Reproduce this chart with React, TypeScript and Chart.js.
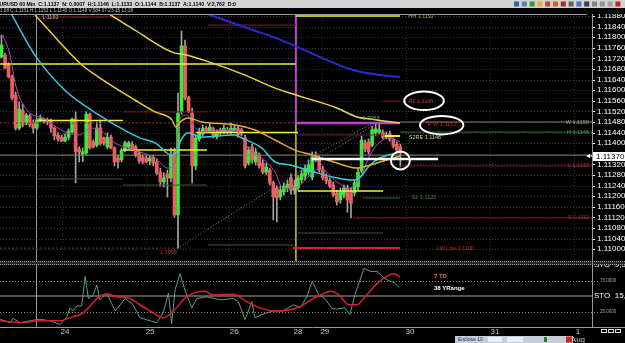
import React, { useEffect, useRef } from 'react';
import { Chart, registerables } from 'chart.js';

Chart.register(...registerables);

const FONT = '"Liberation Sans", Arial, sans-serif';

// ---------------- candles (hourly EURUSD) ----------------
const opens = [
  1.11725, 1.11733, 1.11695, 1.11650, 1.11582, 1.11457, 1.11525, 1.11476, 1.11503, 1.11476,
  1.11457, 1.11484, 1.11491, 1.11488, 1.11484, 1.11457, 1.11431, 1.11423, 1.11408, 1.11423,
  1.11442, 1.11491, 1.11378, 1.11359, 1.11363, 1.11510, 1.11405, 1.11393, 1.11457, 1.11420,
  1.11386, 1.11423, 1.11382, 1.11344, 1.11337, 1.11374, 1.11386, 1.11397, 1.11386, 1.11363,
  1.11348, 1.11344, 1.11333, 1.11348, 1.11329, 1.11291, 1.11254, 1.11284, 1.11269, 1.11367,
  1.11129, 1.11518, 1.11767, 1.11571, 1.11514, 1.11314, 1.11416, 1.11435, 1.11457, 1.11446,
  1.11454, 1.11427, 1.11450, 1.11442, 1.11450, 1.11442, 1.11450, 1.11457, 1.11450, 1.11420,
  1.11325, 1.11386, 1.11329, 1.11355, 1.11325, 1.11291, 1.11299, 1.11250, 1.11231, 1.11197,
  1.11216, 1.11231, 1.11269, 1.11223, 1.11231, 1.11261, 1.11276, 1.11291, 1.11272, 1.11352,
  1.11344, 1.11299, 1.11272, 1.11261, 1.11242, 1.11212, 1.11186, 1.11204, 1.11231, 1.11216,
  1.11212, 1.11235, 1.11295, 1.11401, 1.11405, 1.11393, 1.11439, 1.11442, 1.11442, 1.11423,
  1.11435, 1.11412, 1.11397, 1.11386,
];
const highs = [
  1.11808, 1.11740, 1.11703, 1.11657, 1.11593, 1.11555, 1.11548, 1.11514, 1.11510, 1.11488,
  1.11495, 1.11506, 1.11495, 1.11495, 1.11491, 1.11461, 1.11439, 1.11431, 1.11435, 1.11454,
  1.11495, 1.11518, 1.11386, 1.11382, 1.11518, 1.11514, 1.11412, 1.11480, 1.11488, 1.11423,
  1.11439, 1.11431, 1.11386, 1.11355, 1.11382, 1.11408, 1.11408, 1.11405, 1.11393, 1.11367,
  1.11355, 1.11352, 1.11352, 1.11355, 1.11340, 1.11306, 1.11288, 1.11299, 1.11382, 1.11382,
  1.11589, 1.11823, 1.11789, 1.11578, 1.11533, 1.11427, 1.11457, 1.11469, 1.11465, 1.11472,
  1.11461, 1.11450, 1.11457, 1.11469, 1.11461, 1.11476, 1.11469, 1.11465, 1.11457, 1.11431,
  1.11386, 1.11397, 1.11382, 1.11363, 1.11337, 1.11325, 1.11306, 1.11257, 1.11238, 1.11238,
  1.11250, 1.11261, 1.11284, 1.11261, 1.11280, 1.11299, 1.11318, 1.11337, 1.11367, 1.11367,
  1.11352, 1.11314, 1.11284, 1.11269, 1.11254, 1.11223, 1.11231, 1.11242, 1.11242, 1.11231,
  1.11261, 1.11306, 1.11427, 1.11412, 1.11416, 1.11465, 1.11472, 1.11480, 1.11450, 1.11442,
  1.11446, 1.11420, 1.11405, 1.11397,
];
const lows = [
  1.11722, 1.11680, 1.11646, 1.11563, 1.11450, 1.11450, 1.11461, 1.11469, 1.11461, 1.11439,
  1.11450, 1.11480, 1.11476, 1.11469, 1.11442, 1.11412, 1.11408, 1.11405, 1.11405, 1.11412,
  1.11439, 1.11250, 1.11329, 1.11329, 1.11355, 1.11378, 1.11382, 1.11386, 1.11393, 1.11393,
  1.11378, 1.11378, 1.11314, 1.11306, 1.11329, 1.11367, 1.11378, 1.11371, 1.11348, 1.11325,
  1.11322, 1.11325, 1.11318, 1.11314, 1.11280, 1.11238, 1.11235, 1.11197, 1.11254, 1.11121,
  1.11004, 1.11510, 1.11563, 1.11514, 1.11250, 1.11299, 1.11408, 1.11427, 1.11439, 1.11439,
  1.11420, 1.11416, 1.11431, 1.11435, 1.11435, 1.11435, 1.11442, 1.11423, 1.11427, 1.11306,
  1.11318, 1.11325, 1.11318, 1.11306, 1.11284, 1.11280, 1.11242, 1.11110, 1.11103, 1.11186,
  1.11204, 1.11216, 1.11208, 1.11208, 1.11223, 1.11250, 1.11261, 1.11280, 1.11261, 1.11329,
  1.11291, 1.11261, 1.11246, 1.11231, 1.11197, 1.11167, 1.11174, 1.11193, 1.11140, 1.11118,
  1.11201, 1.11223, 1.11288, 1.11367, 1.11359, 1.11386, 1.11427, 1.11435, 1.11416, 1.11416,
  1.11408, 1.11382, 1.11367, 1.11310,
];
const closes = [
  1.11771, 1.11684, 1.11650, 1.11571, 1.11457, 1.11529, 1.11469, 1.11506, 1.11469, 1.11457,
  1.11488, 1.11495, 1.11484, 1.11480, 1.11457, 1.11427, 1.11416, 1.11408, 1.11423, 1.11446,
  1.11491, 1.11367, 1.11367, 1.11367, 1.11510, 1.11382, 1.11386, 1.11457, 1.11397, 1.11401,
  1.11423, 1.11382, 1.11329, 1.11329, 1.11374, 1.11401, 1.11401, 1.11374, 1.11355, 1.11333,
  1.11329, 1.11329, 1.11344, 1.11325, 1.11288, 1.11254, 1.11269, 1.11269, 1.11355, 1.11129,
  1.11514, 1.11767, 1.11571, 1.11518, 1.11314, 1.11420, 1.11442, 1.11457, 1.11446, 1.11461,
  1.11427, 1.11442, 1.11439, 1.11457, 1.11442, 1.11457, 1.11457, 1.11431, 1.11439, 1.11314,
  1.11374, 1.11337, 1.11367, 1.11314, 1.11291, 1.11310, 1.11250, 1.11197, 1.11193, 1.11223,
  1.11238, 1.11246, 1.11223, 1.11238, 1.11269, 1.11284, 1.11306, 1.11318, 1.11348, 1.11340,
  1.11299, 1.11269, 1.11257, 1.11238, 1.11204, 1.11178, 1.11216, 1.11231, 1.11186, 1.11174,
  1.11250, 1.11291, 1.11412, 1.11378, 1.11367, 1.11450, 1.11454, 1.11450, 1.11423, 1.11431,
  1.11416, 1.11389, 1.11374, 1.11363,
];

// ---------------- moving averages (bar index, price) ----------------
const blueMaIdx = [57.6, 71.2, 76.1, 84.6, 90.2, 99.6, 107.3, 112.9];
const blueMaVal = [1.11891, 1.11827, 1.11805, 1.11759, 1.11725, 1.11676, 1.11657, 1.11650];

const slowMaIdx = [30.1, 37.8, 49.2, 51.1, 59.6, 69.0, 77.5, 85.4, 95.0, 100.7, 104.4, 112.9];
const slowMaVal = [1.11891, 1.11827, 1.11740, 1.11737, 1.11703, 1.11657, 1.11608, 1.11574, 1.11533, 1.11499, 1.11491, 1.11476];

const midMaIdx = [9.5, 22.8, 27.9, 37.8, 43.5, 48.3, 49.4, 50.6, 52.8, 56.8, 66.1, 71.8, 77.5, 83.1, 88.2, 95.0, 100.7, 102.4, 107.2, 112.9];
const midMaVal = [1.11884, 1.11695, 1.11646, 1.11563, 1.11518, 1.11488, 1.11461, 1.11480, 1.11495, 1.11480, 1.11469, 1.11450, 1.11412, 1.11374, 1.11355, 1.11325, 1.11306, 1.11310, 1.11329, 1.11352];

const cyanMaIdx = [2.9, 10.0, 18.5, 24.1, 29.8, 39.2, 43.5, 48.2, 49.6, 50.6, 52.9, 56.7, 66.1, 68.0, 73.7, 77.5, 81.7, 89.3, 95.0, 99.7, 101.6, 104.4, 107.2, 112.9];
const cyanMaVal = [1.11884, 1.11722, 1.11593, 1.11537, 1.11488, 1.11420, 1.11401, 1.11355, 1.11367, 1.11405, 1.11439, 1.11423, 1.11431, 1.11420, 1.11382, 1.11329, 1.11318, 1.11288, 1.11269, 1.11261, 1.11272, 1.11318, 1.11344, 1.11367];

const fastMaIdx = [0.4, 2.4, 3.8, 5.2, 7.2, 8.9, 11.8, 14.6, 18.6, 22.2, 25.1, 27.9, 31.6, 35.6, 39.2, 43.5, 47.2, 49.2, 50.6, 52.5, 54.2, 56.8, 62.5, 67.0, 69.8, 73.8, 77.5, 79.7, 83.7, 87.4, 90.2, 95.0, 98.7, 101.6, 104.4, 107.2, 110.1, 112.9];
const fastMaVal = [1.11808, 1.11733, 1.11631, 1.11571, 1.11525, 1.11506, 1.11495, 1.11469, 1.11439, 1.11431, 1.11457, 1.11450, 1.11405, 1.11382, 1.11367, 1.11344, 1.11306, 1.11329, 1.11495, 1.11506, 1.11469, 1.11442, 1.11450, 1.11442, 1.11382, 1.11344, 1.11291, 1.11231, 1.11235, 1.11280, 1.11306, 1.11254, 1.11231, 1.11269, 1.11355, 1.11405, 1.11420, 1.11405];

// ---------------- horizontal levels ----------------
const levelPrice = [1.11699, 1.11486, 1.11374, 1.11440, 1.11220, 1.11427, 1.11476, 1.11480, 1.11442, 1.11314, 1.11118, 1.11004, 1.11876, 1.11846, 1.11518, 1.11476, 1.11431, 1.11559, 1.11265, 1.11242, 1.11016, 1.11061, 1.11193, 1.11880, 1.11355, 1.11004, 1.11340];
const levelFrom = [-0.42, 10.3, 34.4, 55.0, 84.0, 108.6, 83.4, 112.9, 112.9, 112.9, 99.6, 82.6, 10.9, 58.5, 34.4, -0.42, 83.4, 108.1, 10.3, 34.4, 58.5, 84.0, 102.4, 83.4, -0.42, -0.42, 87.9];
const levelTo = [83.4, 34.4, 58.2, 84.0, 108.1, 112.9, 112.9, 167.3, 167.3, 167.3, 167.3, 112.9, 34.1, 83.4, 58.2, 83.4, 108.1, 112.9, 34.4, 58.2, 83.0, 108.1, 112.9, 112.9, 167.3, 49.9, 123.7];

// vertical day-split line, diagonal fib lines
const splitIdx = 83.4;
const splitTop = 1.11888;
const splitMid = 1.11476;
const splitBottom = 1.10954;
const fibFromIdx = [49.9, 88.8];
const fibFromVal = [1.11004, 1.11355];
const fibToIdx = [106.7, 105.2];
const fibToVal = [1.11480, 1.11476];

// ---------------- stochastic ----------------
const stoKIdx = [-0.4, 2.4, 3.3, 5.2, 8.1, 10.9, 13.7, 16.6, 18.5, 19.4, 20.3, 21.3, 22.7, 23.7, 24.6, 26.0, 27.0, 27.9, 29.8, 32.2, 35.0, 37.3, 39.2, 42.1, 44.0, 45.8, 47.3, 48.2, 49.2, 50.6, 52.0, 53.9, 55.3, 58.1, 61.9, 65.7, 67.1, 69.0, 70.9, 71.8, 74.2, 77.0, 79.8, 82.7, 84.6, 86.5, 88.0, 89.9, 91.6, 93.6, 95.0, 97.3, 98.7, 100.1, 102.7, 104.4, 106.4, 108.4, 110.1, 111.5, 112.6];
const stoKVal = [12.6, 7, 14, 7, 10, 12.6, 10, 4, 16, 31, 26, 34, 34, 82, 46, 52, 68, 44, 55, 26, 46, 36, 15, 10, 7, 23, 55, 5, 61, 86, 59, 31, 46, 49, 44, 46, 41, 12, 41, 15, 21, 26, 26, 36, 31, 49, 74, 52, 46, 30, 29, 31, 20, 52, 95, 90, 90, 79, 74, 71, 64];
const stoDIdx = [-0.4, 5.2, 10.9, 16.6, 19.4, 23.2, 27.0, 29.8, 32.6, 36.4, 39.2, 43.0, 45.8, 48.7, 52.5, 57.6, 60.0, 65.7, 69.5, 73.2, 77.0, 80.8, 84.6, 88.0, 90.8, 93.1, 95.6, 98.4, 100.7, 103.0, 106.9, 109.8, 111.2, 112.9];
const stoDVal = [10, 7, 10, 10, 15, 23, 46, 54, 49, 46, 36, 23, 15, 26, 49, 58, 52, 53, 41, 31, 26, 27, 33, 45, 53, 58, 52, 36, 36, 49, 73, 84, 86, 81];
const stoDotted = [75, 25];
const stoMid = 50;

// ---------------- axes ----------------
const priceTicks = [1.1188, 1.1184, 1.118, 1.1176, 1.1172, 1.1168, 1.1164, 1.116, 1.1156, 1.1152, 1.1148, 1.1144, 1.114, 1.1132, 1.1128, 1.1124, 1.112, 1.1116, 1.1112, 1.1108, 1.1104, 1.11];
const lastPriceText = '1.11370';
const priceLine = 1.11355;
const dateTickPos = [18.0, 42.1, 65.9, 84.0, 91.6, 115.7, 139.8, 163.3];
const dateTickLabels: any[] = ['24', '25', '26', '28', '29', '30', '31', ['1', 'Aug']];
const dayLinePos = [17.1, 40.9, 64.4, 90.8, 114.6, 138.4, 162.2];
const sessionLine = 9.8;

// ---------------- annotations ----------------
const noteText = ['1.1192', 'HH 1.1192', '0.0053', 'R1 1.1166', 'P W 1.1152', 'S2RE 1.1146', 'S1 1.1120', 'LW Low 1.1100', '1.1099', 'W 1.1150', 'H 1.1146', 'L 1.1133', 'S 1.1112'];
const noteIdx = [11.5, 115.2, 102.3, 118.8, 124.8, 115.4, 116.2, 123.3, 44.9, 166.4, 166.4, 166.4, 166.4];
const noteVal = [1.11876, 1.11880, 1.11495, 1.11559, 1.11471, 1.11421, 1.11194, 1.11003, 1.10989, 1.11480, 1.11442, 1.11314, 1.11118];
const ringIdx = [119.7, 124.7, 113.0];
const ringVal = [1.11560, 1.11468, 1.11335];
const stoNoteText = ['7 TD', '38 YRange'];
const stoNoteIdx = [122.5, 122.5];
const stoNoteVal = [82.5, 63.1];

const header1 = 'EURUSD 60 Min  C:1.1137  N: 0.0007  H:1.1146  L:1.1133  O:1.1144  B:1.1137  A:1.1140  V:2,762  D:0';
const header2 = '1.08 C:1.1151 H:1.1153 L:1.1145 O:1.1148 V:584 07-23-15 13:18';

// ---------------- styles ----------------
const GREEN = '#3ce83c';
const RED = '#ea6060';
const WICK = '#a4a4a4';
const YEL = '#f0f040';
const DRED = '#7c1e1e';
const DGRN = '#3a5a3a';
const levelColor = [YEL, YEL, YEL, YEL, YEL, YEL, '#c040d0', '#8a8468', '#2e7a2e', DRED, DRED, '#e02020', DRED, DRED, DRED, '#8a2828', DRED, DRED, DGRN, DGRN, DGRN, DGRN, '#2e6a2e', YEL, '#8c8c78', '#404050', '#ffffff'];
const levelWidth = [1.5, 1.5, 1.5, 1.5, 1.5, 2, 2.5, 1, 1, 1, 1, 2, 1, 1, 1, 1, 1, 1, 1, 1, 1, 1, 1, 1.5, 1, 1, 2.5];
const levelDashed = [0, 0, 0, 0, 0, 0, 0, 0, 0, 0, 0, 0, 0, 0, 0, 1, 0, 0, 0, 0, 0, 0, 0, 0, 0, 1, 0];
const noteColor = ['#b0b0b0', '#a8a860', '#60c060', '#c83030', '#c83030', '#d0d0b0', '#3c8a3c', '#c83030', '#c83030', '#a8a080', '#3c9a3c', '#a83030', '#a83030'];
const noteAlign = ['left', 'left', 'left', 'center', 'center', 'left', 'left', 'left', 'left', 'right', 'right', 'right', 'right'];
const ringRx = [19.8, 21.7, 9.5];
const ringRy = [9.2, 9.2, 9.0];
const stoNoteColor = ['#e07840', '#ffffff'];

const X_MIN = -0.425;
const X_MAX = 167.28;
const Y_MIN = 1.109535;
const Y_MAX = 1.118876;

function hline(ctx: any, x1: number, x2: number, y: number) {
  ctx.beginPath(); ctx.moveTo(x1, y); ctx.lineTo(x2, y); ctx.stroke();
}
function vline(ctx: any, x: number, y1: number, y2: number) {
  ctx.beginPath(); ctx.moveTo(x, y1); ctx.lineTo(x, y2); ctx.stroke();
}

const decor = {
  id: 'decor',
  beforeDraw(chart: any) {
    const { ctx, width, height } = chart;
    ctx.save();
    ctx.fillStyle = '#000';
    ctx.fillRect(0, 0, width, height);
    ctx.restore();
  },
  beforeDatasetsDraw(chart: any) {
    const { ctx, chartArea: ca } = chart;
    const { x, y, y2 } = chart.scales;
    ctx.save();
    ctx.lineWidth = 1;
    ctx.setLineDash([1, 2]);
    ctx.strokeStyle = '#383838';
    for (const p of priceTicks) hline(ctx, ca.left, ca.right, Math.round(y.getPixelForValue(p)) + 0.5);
    ctx.strokeStyle = '#2c2c2c';
    for (const d of dayLinePos) vline(ctx, Math.round(x.getPixelForValue(d)) + 0.5, y.top, y.bottom);
    ctx.strokeStyle = '#8c8c8c';
    for (const v of stoDotted) hline(ctx, ca.left, ca.right + 6, Math.round(y2.getPixelForValue(v)) + 0.5);
    ctx.setLineDash([]);
    ctx.strokeStyle = '#55554c';
    ctx.lineWidth = 2;
    hline(ctx, ca.left, ca.right, Math.round(y2.getPixelForValue(stoMid)));
    ctx.lineWidth = 1;
    ctx.strokeStyle = '#9a9a9a';
    vline(ctx, Math.round(x.getPixelForValue(sessionLine)) + 0.5, ca.top, ca.bottom);
    ctx.restore();
  },
  afterDatasetsDraw(chart: any) {
    const { ctx, chartArea: ca, width } = chart;
    const { x, y, y2 } = chart.scales;
    ctx.save();
    // annotations
    ctx.font = `5.5px ${FONT}`;
    ctx.textBaseline = 'middle';
    noteText.forEach((t, k) => {
      ctx.fillStyle = noteColor[k];
      ctx.textAlign = noteAlign[k];
      ctx.fillText(t, x.getPixelForValue(noteIdx[k]), y.getPixelForValue(noteVal[k]));
    });
    ctx.strokeStyle = '#ffffff';
    ctx.lineWidth = 2;
    ringIdx.forEach((ri, k) => {
      ctx.beginPath();
      ctx.ellipse(x.getPixelForValue(ri), y.getPixelForValue(ringVal[k]), ringRx[k], ringRy[k], 0, 0, Math.PI * 2);
      ctx.stroke();
    });
    // stochastic notes
    ctx.font = `bold 6px ${FONT}`;
    ctx.textAlign = 'left';
    stoNoteText.forEach((t, k) => {
      ctx.fillStyle = stoNoteColor[k];
      ctx.fillText(t, x.getPixelForValue(stoNoteIdx[k]), y2.getPixelForValue(stoNoteVal[k]));
    });
    // price tick marks
    ctx.strokeStyle = '#ffffff';
    ctx.lineWidth = 1;
    for (const p of priceTicks) {
      const py = Math.round(y.getPixelForValue(p)) + 0.5;
      ctx.beginPath(); ctx.moveTo(ca.right, py); ctx.lineTo(ca.right + 3, py); ctx.stroke();
    }
    // last price box
    const lp = Math.round(y.getPixelForValue(priceLine)) + 2;
    ctx.fillStyle = '#ffffff';
    ctx.fillRect(ca.right + 1, lp - 5, width - ca.right - 1, 9);
    ctx.fillStyle = '#000';
    ctx.font = `8px ${FONT}`;
    ctx.fillText(lastPriceText, ca.right + 4, lp);
    ctx.fillStyle = '#ffffff';
    ctx.beginPath(); ctx.moveTo(ca.right - 6, lp - 1); ctx.lineTo(ca.right - 2, lp - 3); ctx.lineTo(ca.right - 2, lp + 1); ctx.closePath(); ctx.fill();
    ctx.fillRect(ca.right - 3, lp - 1.5, 3, 1);
    // sto axis labels
    ctx.fillStyle = '#ffffff';
    ctx.font = `8px ${FONT}`;
    ctx.fillText('STO  9,3', ca.right + 2, y2.getPixelForValue(100.5));
    ctx.fillText('STO  15,', ca.right + 2, y2.getPixelForValue(stoMid));
    ctx.fillStyle = '#a0a0a0';
    ctx.font = `4.5px ${FONT}`;
    ctx.fillText('75.0000', ca.right + 8, y2.getPixelForValue(75));
    ctx.fillText('25.0000', ca.right + 8, y2.getPixelForValue(25));
    // separator band between panels
    const sep = Math.round(y.bottom);
    ctx.fillStyle = '#262626';
    ctx.fillRect(0, sep - 1, width, 4);
    ctx.strokeStyle = '#a0a0a0';
    ctx.setLineDash([1, 1]);
    hline(ctx, 0, width, sep - 0.5);
    hline(ctx, 0, width, sep + 2.5);
    ctx.setLineDash([]);
    // borders
    ctx.strokeStyle = '#9a9a9a';
    vline(ctx, ca.right + 0.5, ca.top, ca.bottom);
    hline(ctx, 0, ca.right - 5, ca.top + 0.5);
    hline(ctx, 0, width, ca.bottom + 0.5);
    // header
    ctx.fillStyle = '#d2d2d2';
    ctx.fillRect(0, 0, width, 8);
    ctx.fillStyle = '#000';
    ctx.font = `bold 5.5px ${FONT}`;
    ctx.textAlign = 'left';
    ctx.fillText(header1, -4, 4.5, 240);
    ctx.fillStyle = '#000';
    ctx.fillRect(0, 8, width, 6);
    ctx.fillStyle = '#c8c8c8';
    ctx.font = `5px ${FONT}`;
    ctx.fillText(header2, 0, 11, 133);
    // toolbar icons
    const icons = ['#3060c0', '#6080a0', '#30a030', '#e0b020', '#c04040', '#d06020', '#a03030', '#606060', '#5070c0', '#404040', '#808080', '#909090', '#a0a0a0', '#d02020'];
    icons.forEach((c, k) => {
      ctx.fillStyle = c;
      ctx.fillRect(514 + k * 7.8, 1.5, 5, 5);
    });
    // bottom widgets
    ctx.strokeStyle = '#dddddd';
    for (let k = 0; k < 3; k++) ctx.strokeRect(601.5 + k * 7, 329.5, 5, 3);
    ctx.fillStyle = '#c6ccd8';
    ctx.fillRect(455, 336, 118, 7);
    ctx.fillStyle = '#203050';
    ctx.font = `5px ${FONT}`;
    ctx.fillText('Enclose 10', 458, 340);
    ctx.fillStyle = '#e8eef8';
    ctx.fillRect(488, 337, 14, 5);
    ctx.fillRect(507, 337, 16, 5);
    ctx.fillStyle = '#208020';
    ctx.fillRect(544, 337, 3, 5);
    ctx.fillStyle = '#d02020';
    ctx.fillRect(566, 336.5, 6, 6);
    ctx.restore();
  },
};

export default function App() {
  const ref = useRef<HTMLCanvasElement>(null);
  useEffect(() => {
    const canvas = ref.current;
    if (!canvas) return;
    const datasets: any[] = [];
    const up = closes.map((c, i) => c >= opens[i]);
    datasets.push({
      type: 'bar', order: 6, grouped: false, barThickness: 1, borderWidth: 0,
      backgroundColor: WICK,
      data: opens.map((_, i) => ({ x: i, y: [lows[i], highs[i]] })),
    });
    datasets.push({
      type: 'bar', order: 5, grouped: false, barThickness: 3, borderWidth: 0,
      backgroundColor: up.map((u) => (u ? GREEN : RED)),
      data: opens.map((o, i) => ({ x: i, y: [o, closes[i]] })),
    });
    levelPrice.forEach((p, k) => {
      datasets.push({
        type: 'line', order: k === levelPrice.length - 1 ? 1 : 4, yAxisID: 'y',
        data: [{ x: levelFrom[k], y: p }, { x: levelTo[k], y: p }],
        borderColor: levelColor[k], borderWidth: levelWidth[k],
        borderDash: levelDashed[k] ? [2, 2] : [], pointRadius: 0,
      });
    });
    datasets.push({
      type: 'line', order: 4, data: [{ x: splitIdx, y: splitTop }, { x: splitIdx, y: splitMid }],
      borderColor: '#c040d0', borderWidth: 2, pointRadius: 0,
    });
    datasets.push({
      type: 'line', order: 4, data: [{ x: splitIdx, y: splitMid }, { x: splitIdx, y: splitBottom }],
      borderColor: '#c8c850', borderWidth: 1.5, pointRadius: 0,
    });
    fibFromIdx.forEach((f, k) => {
      datasets.push({
        type: 'line', order: 4, data: [{ x: f, y: fibFromVal[k] }, { x: fibToIdx[k], y: fibToVal[k] }],
        borderColor: '#8a8a8a', borderWidth: 1, borderDash: [1, 2], pointRadius: 0,
      });
    });
    const ma = (idx: number[], val: number[], color: string, w: number, extra: any = {}) => ({
      type: 'line', order: 3, yAxisID: 'y',
      data: idx.map((v, i) => ({ x: v, y: val[i] })),
      borderColor: color, borderWidth: w, pointRadius: 0, cubicInterpolationMode: 'monotone', ...extra,
    });
    datasets.push(ma(blueMaIdx, blueMaVal, '#2a2ad0', 2));
    datasets.push(ma(slowMaIdx, slowMaVal, '#e8d848', 1.5));
    datasets.push(ma(midMaIdx, midMaVal, '#e8a830', 1.5, {
      segment: { borderColor: (c: any) => (c.p0.parsed.x < 48 ? '#e6d040' : '#e8a830') },
    }));
    datasets.push(ma(cyanMaIdx, cyanMaVal, '#3cc8dc', 1.5));
    datasets.push(ma(fastMaIdx, fastMaVal, '#b848c0', 1));
    datasets.push({
      type: 'line', order: 2, yAxisID: 'y2',
      data: stoKIdx.map((v, i) => ({ x: v, y: stoKVal[i] })),
      borderColor: '#5a9c8c', borderWidth: 1, pointRadius: 0, tension: 0,
    });
    datasets.push({
      type: 'line', order: 1, yAxisID: 'y2',
      data: stoDIdx.map((v, i) => ({ x: v, y: stoDVal[i] })),
      borderColor: '#d82030', borderWidth: 1.5, pointRadius: 0, cubicInterpolationMode: 'monotone',
    });

    Chart.defaults.font.family = FONT;
    const chart = new Chart(canvas, {
      type: 'bar',
      data: { datasets },
      options: {
        animation: false,
        responsive: false,
        devicePixelRatio: 1,
        events: [],
        layout: { padding: { top: 14, left: 0, right: 0, bottom: 0 } },
        plugins: { legend: { display: false }, tooltip: { enabled: false }, title: { display: false } },
        scales: {
          x: {
            type: 'linear', min: X_MIN, max: X_MAX, offset: false, position: 'bottom',
            grid: { display: false, drawTicks: false, offset: false }, border: { display: false },
            afterBuildTicks: (s: any) => { s.ticks = dateTickPos.map((v) => ({ value: v })); },
            afterFit: (s: any) => { s.height = 16; },
            ticks: {
              autoSkip: false, maxRotation: 0, minRotation: 0, padding: 1, color: '#c8c8c8',
              font: { size: 8, family: FONT, lineHeight: 1 },
              callback: (_v: any, i: number) => dateTickLabels[i],
            },
          },
          y: {
            type: 'linear', position: 'right', stack: 'panels', stackWeight: 247.5,
            min: Y_MIN, max: Y_MAX,
            grid: { display: false, drawTicks: false }, border: { display: false },
            afterBuildTicks: (s: any) => { s.ticks = priceTicks.map((v) => ({ value: v })); },
            afterFit: (s: any) => { s.width = 33; },
            ticks: {
              autoSkip: false, color: '#ffffff', padding: 5, font: { size: 8, family: FONT },
              callback: (v: any) => Number(v).toFixed(5),
            },
          },
          y2: {
            type: 'linear', position: 'right', stack: 'panels', stackWeight: 65.5,
            min: 0, max: 106,
            grid: { display: false, drawTicks: false }, border: { display: false },
            ticks: { display: false },
            afterFit: (s: any) => { s.width = 33; },
          },
        },
      } as any,
      plugins: [decor],
    } as any);
    return () => chart.destroy();
  }, []);
  return (
    <div style={{ position: 'absolute', left: 0, top: 0, width: 625, height: 343, background: '#000', overflow: 'hidden' }}>
      <canvas ref={ref} width={625} height={343} style={{ display: 'block', width: 625, height: 343 }} />
    </div>
  );
}
